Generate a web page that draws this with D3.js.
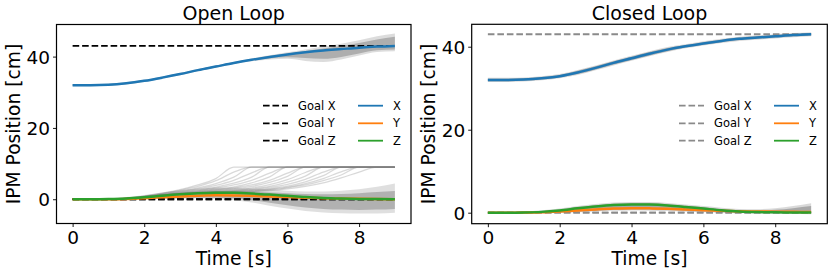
<!DOCTYPE html>
<html><head><meta charset="utf-8">
<script src="https://cdn.jsdelivr.net/npm/d3@7"></script>
<style>
body{margin:0;background:#fff}
svg{display:block}
text{font-family:"DejaVu Sans",sans-serif;fill:#000}
</style>
</head><body>
<svg id="c" width="831" height="275"></svg>
<script>
// ---------- data ----------
const tGrid = [0,0.5,1,1.5,2,2.5,3,3.5,4,4.5,5,5.5,6,6.5,7,7.5,8,8.5,9];
const titles = ["Open Loop","Closed Loop"];
const xTicks = [0,2,4,6,8];
const yTicks = [0,20,40];
const goalX = 43, goalY = 0, goalZ = 0;
const legendGoal = ["Goal X","Goal Y","Goal Z"];
const legendSeries = ["X","Y","Z"];

// Open loop mean trajectories
const olX = [32.0,32.0,32.1,32.5,33.2,34.1,35.1,36.2,37.2,38.2,39.1,39.9,40.6,41.2,41.7,42.1,42.5,42.8,43.0];
const olY = [0,0,0.02,0.1,0.3,0.55,0.8,1.0,1.1,1.05,0.95,0.8,0.6,0.45,0.3,0.2,0.12,0.06,0.02];
const olZ = [0,0,0.05,0.2,0.55,1.0,1.4,1.7,1.85,1.8,1.6,1.3,0.95,0.6,0.35,0.2,0.1,0.05,0.02];
// Open loop ensemble spread (gray)
const olXInLo  = [31.8,31.8,31.9,32.3,33.0,33.9,34.9,36.0,37.0,38.0,38.9,39.5,39.8,39.6,39.4,39.9,40.9,41.8,42.0];
const olXInHi  = [32.2,32.2,32.3,32.7,33.4,34.3,35.3,36.4,37.4,38.4,39.3,40.2,40.9,41.6,42.3,43.0,43.8,44.8,45.6];
const olXOutLo = [31.7,31.7,31.8,32.2,32.9,33.8,34.8,35.9,36.9,37.9,38.7,39.2,39.4,38.8,38.5,39.2,40.3,41.3,41.5];
const olXOutHi = [32.3,32.3,32.4,32.8,33.5,34.4,35.4,36.5,37.5,38.5,39.5,40.4,41.2,42.0,42.8,43.6,44.6,45.7,46.5];
const olYZInLo  = [-0.1,-0.1,-0.1,0,0.1,0.2,0.3,0.4,0.4,0.2,-0.3,-1.0,-1.7,-2.3,-2.7,-2.9,-3.0,-2.9,-2.7];
const olYZInHi  = [0.1,0.1,0.15,0.35,0.8,1.3,1.7,2.0,2.2,2.2,2.1,1.9,1.7,1.5,1.4,1.5,1.7,2.0,2.3];
const olYZOutLo = [-0.2,-0.2,-0.2,-0.1,0,0.1,0.2,0.2,0.1,-0.3,-0.9,-1.8,-2.6,-3.3,-3.7,-3.9,-4.0,-4.0,-3.8];
const olYZOutHi = [0.2,0.2,0.3,0.6,1.2,1.9,2.5,3.0,3.3,3.3,3.0,2.7,2.4,2.2,2.2,2.4,2.8,3.5,4.4];
// Open loop diverging runs that saturate at 9
const olArcs = [
  [0,0,0.05,0.3,0.9,1.7,2.7,4.0,5.8,9,9,9,9,9,9,9,9,9,9],
  [0,0,0.05,0.3,0.85,1.6,2.5,3.6,5.2,7.6,9,9,9,9,9,9,9,9,9],
  [0,0,0.05,0.25,0.8,1.5,2.3,3.2,4.4,6.2,9,9,9,9,9,9,9,9,9],
  [0,0,0.05,0.25,0.75,1.4,2.1,2.9,3.9,5.3,7.4,9,9,9,9,9,9,9,9],
  [0,0,0.05,0.25,0.7,1.3,1.9,2.6,3.4,4.5,6.2,9,9,9,9,9,9,9,9],
  [0,0,0.05,0.2,0.7,1.25,1.8,2.4,3.1,4.0,5.3,7.3,9,9,9,9,9,9,9],
  [0,0,0.05,0.2,0.65,1.2,1.7,2.2,2.8,3.5,4.6,6.3,9,9,9,9,9,9,9],
  [0,0,0.05,0.2,0.65,1.15,1.65,2.1,2.6,3.2,4.0,5.3,7.3,9,9,9,9,9,9],
  [0,0,0.05,0.2,0.6,1.1,1.6,2.0,2.4,2.9,3.6,4.7,6.4,9,9,9,9,9,9],
  [0,0,0.05,0.2,0.6,1.1,1.55,1.9,2.25,2.6,3.2,4.1,5.5,7.5,9,9,9,9,9],
  [0,0,0.05,0.2,0.6,1.1,1.5,1.8,2.1,2.4,2.9,3.6,4.8,6.5,9,9,9,9,9],
  [0,0,0.05,0.2,0.6,1.1,1.5,1.8,2.05,2.3,2.7,3.3,4.2,5.6,7.6,9,9,9,9],
  [0,0,0.05,0.2,0.6,1.1,1.5,1.8,2.0,2.2,2.5,3.0,3.7,4.9,6.6,9,9,9,9],
  [0,0,0.05,0.2,0.6,1.1,1.5,1.75,1.95,2.1,2.35,2.8,3.4,4.4,5.8,7.7,9,9,9],
  [0,0,0.05,0.2,0.6,1.1,1.5,1.75,1.9,2.0,2.2,2.6,3.2,4.0,5.2,6.8,9,9,9],
  [0,0,0.05,0.2,0.6,1.1,1.45,1.7,1.85,1.95,2.1,2.4,2.9,3.6,4.6,6.0,7.6,9,9]
];

// Closed loop mean trajectories
const clX = [32.0,32.0,32.1,32.4,32.9,33.8,34.9,36.1,37.2,38.3,39.3,40.1,40.8,41.4,41.9,42.2,42.5,42.8,43.0];
const clY = [0,0,0.02,0.1,0.3,0.55,0.8,1.0,1.1,1.05,0.95,0.8,0.6,0.45,0.35,0.3,0.25,0.2,0.15];
const clZ = [0,0,0.05,0.2,0.55,1.05,1.5,1.85,2.0,1.95,1.75,1.4,1.0,0.6,0.3,0.15,0.08,0.05,0.05];
// Closed loop ensemble spread (gray)
const clXInLo  = [31.7,31.7,31.8,32.1,32.6,33.4,34.5,35.7,36.8,37.9,38.9,39.8,40.5,41.1,41.6,41.9,42.2,42.5,42.7];
const clXInHi  = [32.3,32.3,32.4,32.7,33.2,34.2,35.3,36.5,37.6,38.7,39.7,40.4,41.1,41.7,42.2,42.5,42.8,43.1,43.3];
const clXOutLo = [31.5,31.5,31.6,31.9,32.4,33.2,34.3,35.5,36.6,37.7,38.7,39.6,40.3,40.9,41.4,41.7,42.0,42.3,42.5];
const clXOutHi = [32.5,32.5,32.6,32.9,33.4,34.4,35.5,36.7,37.8,38.9,39.9,40.6,41.3,41.9,42.4,42.7,43.0,43.3,43.5];
const clYZInLo  = [-0.15,-0.15,-0.13,-0.05,0.1,0.3,0.5,0.7,0.8,0.75,0.65,0.5,0.3,0.15,0.05,0,-0.05,-0.1,-0.15];
const clYZInHi  = [0.15,0.15,0.2,0.4,0.8,1.35,1.8,2.15,2.3,2.25,2.05,1.7,1.3,0.9,0.6,0.5,0.7,1.1,1.6];
const clYZOutLo = [-0.3,-0.3,-0.3,-0.2,-0.05,0.1,0.3,0.45,0.55,0.5,0.4,0.25,0.1,-0.05,-0.15,-0.2,-0.25,-0.3,-0.35];
const clYZOutHi = [0.3,0.3,0.35,0.6,1.0,1.6,2.1,2.45,2.6,2.55,2.35,2.0,1.6,1.2,0.9,0.85,1.1,1.6,2.3];

// ---------- drawing ----------
const colX = "#1f77b4", colY = "#ff7f0e", colZ = "#2ca02c";
const svg = d3.select("#c");

const panels = [
  {title:titles[0], box:[56.5,24.5,411,223.5], ydom:[-6.8,49.0], goalCol:"#000",
   X:olX, Y:olY, Z:olZ,
   bands:[[olXOutLo,olXOutHi,0.28],[olXInLo,olXInHi,0.5],[olYZOutLo,olYZOutHi,0.25],[olYZInLo,olYZInHi,0.48]],
   arcs:olArcs, ylabX:20, legGoalX:263, legSerX:358},
  {title:titles[1], box:[471.7,24.3,827.3,223.7], ydom:[-2.65,45.4], goalCol:"#8a8a8a",
   X:clX, Y:clY, Z:clZ,
   bands:[[clXOutLo,clXOutHi,0.3],[clXInLo,clXInHi,0.55],[clYZOutLo,clYZOutHi,0.3],[clYZInLo,clYZInHi,0.55]],
   arcs:[], ylabX:435, legGoalX:679, legSerX:774}
];

panels.forEach((p,pi)=>{
  const [l,t,r,b] = p.box;
  const x = d3.scaleLinear().domain([-0.45,9.45]).range([l,r]);
  const y = d3.scaleLinear().domain(p.ydom).range([b,t]);
  const g = svg.append("g");
  const cid = "clip"+pi;
  svg.append("clipPath").attr("id",cid).append("rect")
     .attr("x",l).attr("y",t).attr("width",r-l).attr("height",b-t);
  const plot = g.append("g").attr("clip-path",`url(#${cid})`);

  // ensemble bands
  p.bands.forEach(([lo,hi,op])=>{
    const area = d3.area().x((d,i)=>x(tGrid[i])).y0((d,i)=>y(lo[i])).y1((d,i)=>y(hi[i]))
                  .curve(d3.curveMonotoneX);
    plot.append("path").attr("d",area(lo)).attr("fill","#808080").attr("fill-opacity",op);
  });
  // diverging runs
  const line = d3.line().x((d,i)=>x(tGrid[i])).y(d=>y(d)).curve(d3.curveMonotoneX);
  p.arcs.forEach(a=>{
    plot.append("path").attr("d",line(a)).attr("fill","none")
      .attr("stroke","#808080").attr("stroke-opacity",0.3).attr("stroke-width",1.3);
  });
  // goals
  [goalX,goalY,goalZ].forEach(gv=>{
    plot.append("line").attr("x1",x(tGrid[0])).attr("x2",x(tGrid[tGrid.length-1]))
      .attr("y1",y(gv)).attr("y2",y(gv)).attr("stroke",p.goalCol)
      .attr("stroke-width",1.8).attr("stroke-dasharray","6.6,2.9");
  });
  // means
  [[p.X,colX],[p.Y,colY],[p.Z,colZ]].forEach(([s,c])=>{
    plot.append("path").attr("d",line(s)).attr("fill","none")
      .attr("stroke",c).attr("stroke-width",2.5);
  });

  // axes
  const ax = g.append("g").attr("transform",`translate(0,${b})`)
    .call(d3.axisBottom(x).tickValues(xTicks).tickSize(3.5).tickPadding(3).tickFormat(d3.format("d")));
  const ay = g.append("g").attr("transform",`translate(${l},0)`)
    .call(d3.axisLeft(y).tickValues(yTicks).tickSize(3.5).tickPadding(3).tickFormat(d3.format("d")));
  [ax,ay].forEach(a=>{
    a.select(".domain").remove();
    a.selectAll(".tick line").attr("stroke","#000").attr("stroke-width",0.9);
    a.selectAll(".tick text").attr("font-size",18.5).attr("font-family","DejaVu Sans").attr("fill","#000");
  });
  ax.selectAll(".tick text").attr("dy","0.74em");
  ay.selectAll(".tick text").attr("dy","0.36em");

  g.append("rect").attr("x",l).attr("y",t).attr("width",r-l).attr("height",b-t)
   .attr("fill","none").attr("stroke","#000").attr("stroke-width",1.2);

  g.append("text").attr("x",(l+r)/2).attr("y",19.5).attr("text-anchor","middle")
   .attr("font-size",19).text(p.title);
  g.append("text").attr("x",(l+r)/2).attr("y",265).attr("text-anchor","middle")
   .attr("font-size",18.7).text("Time [s]");
  g.append("text").attr("transform",`translate(${p.ylabX},${(t+b)/2}) rotate(-90)`)
   .attr("text-anchor","middle").attr("font-size",18.7).text("IPM Position [cm]");

  // legend
  const rows = [105.7,123.3,140.7];
  const sc = [colX,colY,colZ];
  rows.forEach((ry,i)=>{
    g.append("line").attr("x1",p.legGoalX).attr("x2",p.legGoalX+25).attr("y1",ry).attr("y2",ry)
     .attr("stroke",p.goalCol).attr("stroke-width",1.8).attr("stroke-dasharray","6.6,2.9");
    g.append("text").attr("x",p.legGoalX+35).attr("y",ry+4).attr("font-size",11.5)
     .attr("fill","#222").text(legendGoal[i]);
    g.append("line").attr("x1",p.legSerX).attr("x2",p.legSerX+25).attr("y1",ry).attr("y2",ry)
     .attr("stroke",sc[i]).attr("stroke-width",1.8);
    g.append("text").attr("x",p.legSerX+35).attr("y",ry+4).attr("font-size",11.5)
     .attr("fill","#222").text(legendSeries[i]);
  });
});
</script>
</body></html>
